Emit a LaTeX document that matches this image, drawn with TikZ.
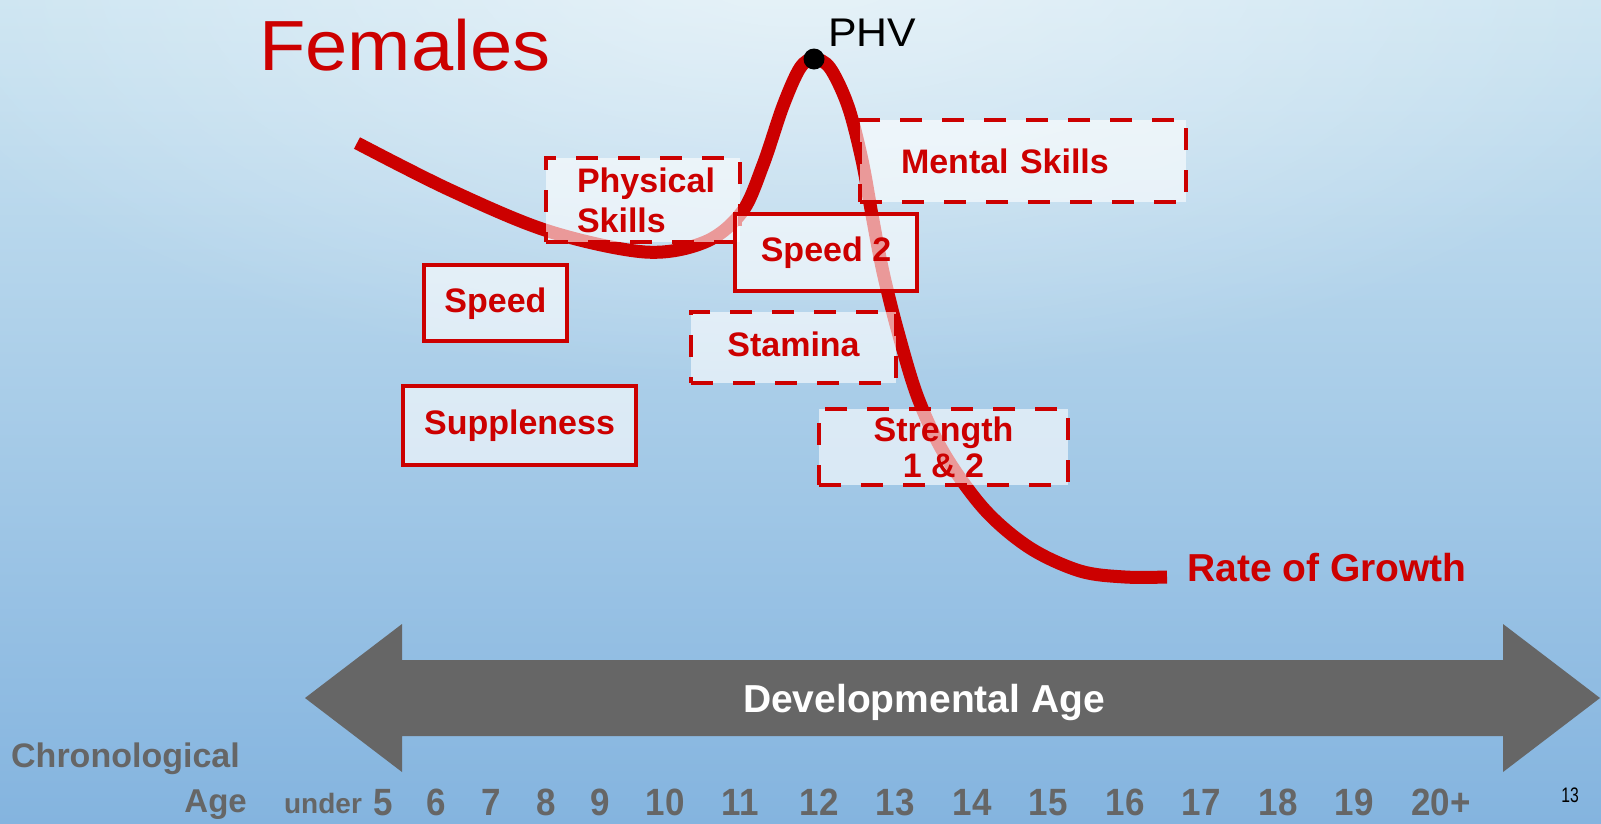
\documentclass[tikz,border=0pt]{standalone}
\usepackage{fontspec}
\setmainfont{Liberation Sans}
\newfontfamily\agefont{Liberation Sans}[FakeStretch=0.92]
\newfontfamily\pagefont{Liberation Sans}[FakeStretch=0.75]
\newfontfamily\widefont{Liberation Sans}[FakeStretch=1.07]
\usetikzlibrary{fadings}

\definecolor{growthred}{HTML}{CC0000}
\definecolor{axisgray}{HTML}{666666}
\definecolor{bgtop}{HTML}{CBE4F1}
\definecolor{bgmid}{HTML}{B4D3EC}
\definecolor{bgbot}{HTML}{84B4DF}

\tikzfading[name=softglow, inner color=transparent!0, outer color=transparent!100]

\begin{document}
\begin{tikzpicture}[x=1pt, y=-1pt,
  tag/.style={rectangle, draw=growthred, line width=4pt, fill=white,
    fill opacity=0.6, text opacity=1, text=growthred, inner sep=0pt,
    font=\fontsize{34}{36}\selectfont\bfseries},
  oneline/.style={text height=25pt, text depth=7pt},
  dashtag/.style={tag, dash pattern=on 22pt off 20pt},
  solidtag/.style={tag},
  agenum/.style={anchor=base, inner sep=0pt, text=axisgray,
    font=\agefont\fontsize{38}{40}\selectfont\bfseries},
  axislabel/.style={inner sep=0pt, text=axisgray,
    font=\fontsize{34}{36}\selectfont\bfseries},
  growth/.style={draw=growthred, line width=13pt}
]
\useasboundingbox (0,0) rectangle (1601,823);
\clip (0,0) rectangle (1601,823);

% background
\shade[top color=bgtop, middle color=bgmid, bottom color=bgbot] (0,0) rectangle (1601,823);
\fill[white, opacity=0.55, path fading=softglow] (800,-40) ellipse [x radius=950pt, y radius=430pt];

% developmental age double arrow
\fill[axisgray] (305,698) -- (402,624) -- (402,660) -- (1503,660) -- (1503,624)
  -- (1600,698) -- (1503,772) -- (1503,736) -- (402,736) -- (402,772) -- cycle;
\node[anchor=base, inner sep=0pt, text=white, font=\fontsize{39}{41}\selectfont\bfseries]
  (devage) at (924,712) {Developmental Age};

% rate of growth curve
\draw[growth] plot[smooth, tension=0.55] coordinates {
  (357,143) (450,190) (548,231) (645,252) (705,242) (742,212)
  (763,165) (783,106) (800,68) (814,59) (830,68) (848,106)
  (862,160) (872,215) (883,272) (898,332) (918,398)
  (945,455) (985,510) (1030,548) (1080,571) (1125,577) (1167,577)};
\coordinate (phv) at (814,59);

% training boxes
\node[dashtag, align=left, text width=132pt, inner xsep=31pt,
  minimum width=194pt, minimum height=84pt,
  font=\fontsize{34}{40}\selectfont\bfseries] (physical) at (643,200) {Physical\\Skills};
\node[dashtag, align=left, text width=244pt, inner xsep=41pt,
  minimum width=326pt, minimum height=82pt] (mental) at (1023,161) {Mental Skills};
\node[solidtag, oneline, minimum width=182pt, minimum height=77pt] (speedtwo) at (826,252.5) {Speed 2};
\node[solidtag, oneline, minimum width=143pt, minimum height=76pt] (speed) at (495.5,303) {Speed};
\node[dashtag, oneline, minimum width=205pt, minimum height=71pt] (stamina) at (793.5,347.5) {Stamina};
\node[solidtag, oneline, minimum width=233pt, minimum height=79pt] (supple) at (519.5,425.5) {Suppleness};
\node[dashtag, align=center, minimum width=249pt, minimum height=76pt] (strength) at (943.5,447) {Strength\\1 \& 2};

% peak height velocity
\fill[black] (phv) circle [radius=10.5pt];
\node[anchor=base west, inner sep=0pt, font=\widefont\fontsize{40}{42}\selectfont] (phvlabel) at (828,46) {PHV};

% titles and labels
\node[anchor=base west, inner sep=0pt, text=growthred, font=\widefont\fontsize{71}{75}\selectfont]
  (title) at (259,70) {Females};
\node[anchor=base west, inner sep=0pt, text=growthred, font=\fontsize{39}{41}\selectfont\bfseries]
  (rate) at (1187,581) {Rate of Growth};

% chronological age scale
\node[axislabel, anchor=base west] (chrono) at (11,767) {Chronological};
\node[axislabel, anchor=base east, font=\fontsize{33}{35}\selectfont\bfseries] (agelabel) at (247,812) {Age};
\node[axislabel, anchor=base, font=\fontsize{28}{30}\selectfont\bfseries] (under) at (323,813) {under};
\foreach \n/\x in {5/383, 6/436, 7/491, 8/546, 9/600, 10/665, 11/740, 12/819,
  13/895, 14/972, 15/1048, 16/1125, 17/1201, 18/1278, 19/1354, 20+/1441}
  \node[agenum] (age\n) at (\x,815) {\n};

% slide number
\node[anchor=base, inner sep=0pt, font=\pagefont\fontsize{21}{22}\selectfont] (pagenum) at (1570,802) {13};
\end{tikzpicture}
\end{document}
